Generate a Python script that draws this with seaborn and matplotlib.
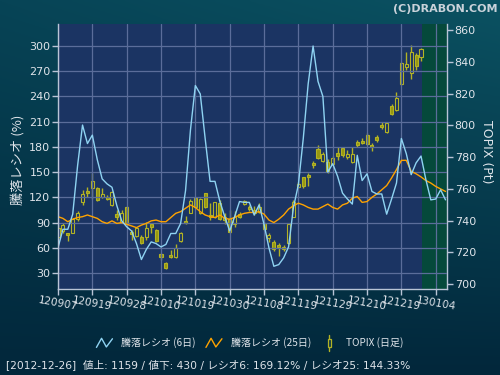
import numpy as np
import pandas as pd
import matplotlib
matplotlib.use("Agg")
import matplotlib.pyplot as plt
import seaborn as sns
from matplotlib.lines import Line2D
from matplotlib.patches import Rectangle
from matplotlib.legend_handler import HandlerBase

# ---------------- data ----------------
tick_labels = ["120907", "120919", "120928", "121010", "121019", "121030",
               "121108", "121119", "121129", "121210", "121219", "130104"]

ratio6 = [60, 82, 82, 100, 158, 206, 184, 194, 165, 142, 136, 132, 110, 92, 85, 80,
          65, 46, 58, 67, 65, 61, 64, 77, 77, 89, 128, 200, 253, 243, 190, 139,
          139, 115, 97, 80, 97, 115, 114, 114, 99, 111, 88, 60, 38, 40, 48, 61,
          108, 135, 190, 255, 300, 258, 240, 150, 160, 145, 125, 118, 112, 170, 140, 148,
          127, 124, 124, 100, 118, 137, 190, 172, 147, 161, 169.12, 141, 117, 118, 129, 117]

ratio25 = [97, 95, 91, 94, 96, 97, 99, 97, 95, 91, 89, 92, 89, 90, 88, 86,
           84, 87, 89, 92, 93, 91, 91, 96, 101, 103, 107, 111, 108, 103, 99, 97,
           96, 99, 95, 94, 96, 99, 101, 102, 102, 103, 100, 93, 90, 94, 99, 106,
           110, 113, 111, 108, 106, 106, 109, 112, 108, 106, 111, 113, 119, 121, 114, 115,
           120, 124, 129, 134, 143, 153, 164, 164, 151, 148, 144.33, 140, 137, 133, 130, 127]

topix_open = [729.8, 733.6, 731.9, 732.3, 740.7, 751.9, 758.8, 760.3, 760.3, 754.6,
              755.0, 749.8, 744.1, 739.3, 748.3, 732.8, 730.2, 729.8, 729.4, 737.8,
              734.0, 718.9, 713.4, 718.3, 717.2, 727.3, 739.7, 745.0, 754.0, 744.5,
              757.1, 743.5, 742.0, 750.8, 742.4, 740.7, 737.8, 744.1, 750.4, 748.3,
              746.6, 745.6, 738.2, 728.8, 726.7, 724.6, 723.5, 725.6, 742.4, 760.9,
              767.2, 768.7, 776.4, 784.8, 777.7, 777.1, 775.6, 782.7, 785.5, 779.8,
              777.1, 789.7, 790.3, 793.9, 787.6, 792.4, 800.2, 795.9, 812.1, 809.6,
              826.0, 836.9, 832.7, 844.3, 842.8]
topix_high = [737.0, 738.6, 732.0, 741.4, 746.2, 759.2, 761.3, 770.1, 761.3, 760.3,
              756.0, 758.8, 746.6, 746.6, 749.1, 734.0, 735.7, 730.8, 739.3, 738.6,
              734.4, 719.3, 714.1, 721.4, 725.2, 733.0, 742.8, 753.3, 755.0, 754.0,
              757.5, 750.8, 751.9, 752.9, 744.9, 746.6, 746.2, 745.6, 752.9, 749.8,
              749.1, 750.8, 739.3, 731.9, 727.7, 725.6, 724.6, 738.2, 752.9, 764.5,
              767.6, 769.7, 777.7, 787.6, 783.4, 778.5, 780.6, 786.5, 786.5, 784.4,
              786.5, 790.7, 791.8, 794.9, 788.6, 793.9, 802.3, 802.3, 813.5, 821.0,
              840.0, 846.3, 850.6, 845.3, 848.5]
topix_low = [727.0, 731.9, 727.3, 731.9, 739.5, 749.8, 755.0, 753.4, 752.5, 754.0,
             752.9, 749.0, 740.3, 738.2, 737.2, 727.7, 729.8, 725.2, 727.7, 731.9,
             726.7, 715.1, 709.2, 716.2, 716.2, 726.7, 737.8, 744.5, 747.7, 744.1,
             747.7, 740.3, 741.4, 740.3, 737.8, 731.9, 736.1, 741.4, 749.8, 746.2,
             743.5, 744.5, 734.0, 726.7, 721.0, 717.6, 721.0, 725.2, 742.0, 760.3,
             760.3, 761.7, 772.9, 778.5, 777.1, 770.1, 775.0, 778.1, 780.2, 778.5,
             776.4, 786.5, 788.2, 787.6, 784.0, 789.7, 797.4, 795.3, 806.4, 809.0,
             825.5, 834.8, 828.9, 834.8, 840.7]
topix_close = [735.1, 737.2, 730.9, 740.7, 744.5, 756.7, 757.5, 764.9, 752.9, 756.7,
               753.3, 758.2, 742.4, 744.9, 737.8, 731.5, 735.0, 726.0, 735.0, 736.1,
               727.3, 716.8, 709.9, 716.8, 722.5, 731.9, 738.2, 752.3, 748.7, 753.3,
               748.7, 742.0, 751.9, 740.7, 740.3, 733.0, 742.0, 742.4, 752.5, 747.0,
               744.9, 748.7, 734.4, 730.8, 721.8, 723.1, 721.8, 737.8, 751.9, 763.0,
               761.7, 767.2, 775.2, 779.2, 781.9, 770.8, 779.2, 780.6, 781.3, 781.9,
               781.9, 787.6, 789.0, 788.2, 786.1, 790.7, 798.7, 801.2, 807.1, 817.0,
               839.4, 838.4, 846.3, 837.6, 847.8]

info_text = "[2012-12-26]  値上: 1159 / 値下: 430 / レシオ6: 169.12% / レシオ25: 144.33%"

# ---------------- style ----------------
sns.set_style("dark")
plt.rcParams["font.family"] = ["DejaVu Sans", "Noto Sans CJK JP"]
plt.rcParams["axes.unicode_minus"] = False

NAVY = "#1b3463"
GREEN = "#05493b"
TXT = "#dfe4ea"
GRID = "#5b6d9a"
SPINE = "#b9c4d6"
CYAN = "#8fd3f2"
ORANGE = "#ffa300"
OLIVE_F = "#979712"
OLIVE_E = "#b3b324"

df_ratio = pd.DataFrame({"idx": np.arange(len(ratio6)), "r6": ratio6, "r25": ratio25})
df_px = pd.DataFrame({"idx": np.arange(len(topix_open)), "o": topix_open, "h": topix_high,
                      "l": topix_low, "c": topix_close})

fig = plt.figure(figsize=(5, 3.75), dpi=100)

# background gradient
bg = fig.add_axes([0, 0, 1, 1], zorder=-10)
yy = np.linspace(0, 1, 200)[:, None]
xx = np.linspace(0, 1, 300)[None, :]
top = np.array([0x07, 0x44, 0x56]) / 255
topr = np.array([0x0b, 0x52, 0x62]) / 255
bot = np.array([0x02, 0x27, 0x3b]) / 255
t = yy[..., None]
s = xx[..., None]
topcol = top * (1 - s) + topr * s
img = topcol * (1 - t) + bot * t
bg.imshow(img, aspect="auto", extent=[0, 1, 0, 1], origin="upper")
bg.set_axis_off()

ax = fig.add_axes([0.116, 0.2293, 0.778, 0.7067])
ax2 = ax.twinx()
ax.set_zorder(ax2.get_zorder() + 1)
ax.patch.set_visible(False)
ax2.patch.set_visible(True)
ax2.set_facecolor(NAVY)

n_px = len(topix_open)
xmax = 79.3
ax2.axvspan(n_px - 0.75, xmax, color=GREEN, zorder=0, lw=0)

# candles
up = df_px["c"] >= df_px["o"]
ax2.vlines(df_px["idx"], df_px["l"], df_px["h"], color=OLIVE_E, lw=1.0, zorder=2)
body_bottom = np.minimum(df_px["o"], df_px["c"])
body_h = np.maximum(np.abs(df_px["c"] - df_px["o"]), 0.6)
faces = [NAVY if u else OLIVE_F for u in up]
ax2.bar(df_px["idx"], body_h, bottom=body_bottom, width=0.62, color=faces,
        edgecolor=OLIVE_E, linewidth=0.8, zorder=3)

# ratio lines
sns.lineplot(data=df_ratio, x="idx", y="r25", ax=ax, color=ORANGE, lw=1.0, legend=False)
sns.lineplot(data=df_ratio, x="idx", y="r6", ax=ax, color=CYAN, lw=1.0, legend=False)

ax.set_xlim(0, xmax)
ax.set_ylim(10.95, 326.2)
ax2.set_ylim(696.85, 863.8)
ax.set_xlabel("")
ax.set_ylabel("")

ax.set_yticks(np.arange(30, 301, 30))
ax.set_xticks(np.arange(0, 7 * len(tick_labels), 7))
ax.set_xticklabels(tick_labels, rotation=-10, ha="center")
ax2.set_yticks(np.arange(700, 861, 20))

ax.grid(True, color=GRID, lw=0.9)
ax2.grid(False)

for a in (ax, ax2):
    for sp in a.spines.values():
        sp.set_visible(False)
ax.spines["left"].set_visible(True)
ax.spines["bottom"].set_visible(True)
ax2.spines["right"].set_visible(True)
for sp in (ax.spines["left"], ax.spines["bottom"], ax2.spines["right"]):
    sp.set_color(SPINE)
    sp.set_linewidth(1.0)

ax.tick_params(axis="y", colors=SPINE, labelcolor=TXT, labelsize=8, length=4, width=1, pad=1.5, direction="out", left=True)
ax.tick_params(axis="x", colors=SPINE, labelcolor=TXT, labelsize=7.6, length=4, width=1, pad=0.5, direction="out", bottom=True)
ax2.tick_params(axis="y", colors=SPINE, labelcolor=TXT, labelsize=8, length=4, width=1, pad=1.5, direction="out", right=True)

# axis titles
fig.text(18 / 500, 1 - 160 / 375, "騰落レシオ (%)", rotation=90, ha="center", va="center",
         color=TXT, fontsize=9.5, family=["Noto Sans CJK JP", "DejaVu Sans"])
fig.text(486 / 500, 1 - 152 / 375, "TOPIX (Pt)", rotation=-90, ha="center", va="center",
         color=TXT, fontsize=9)
fig.text(0.994, 1 - 9 / 375, "(C)DRABON.COM", ha="right", va="center", color="#c9d2da",
         fontsize=8, fontweight="bold")

# legend
class ZigZagHandler(HandlerBase):
    def create_artists(self, legend, orig_handle, xdescent, ydescent, width, height, fontsize, trans):
        fx = np.array([0.0, 0.32, 0.62, 1.0])
        fy = np.array([0.0, 1.0, 0.05, 0.95])
        xs = -xdescent + fx * width
        ys = -ydescent + (fy * 1.3 - 0.15) * height
        return [Line2D(xs, ys, color=orig_handle.get_color(), lw=1.0, transform=trans)]


class CandleHandler(HandlerBase):
    def create_artists(self, legend, orig_handle, xdescent, ydescent, width, height, fontsize, trans):
        cx = -xdescent + width * 0.5
        y0 = -ydescent
        wick = Line2D([cx, cx], [y0 - 0.6 * height, y0 + 1.6 * height], color=OLIVE_E, lw=1.0, transform=trans)
        bw = 0.45 * height
        body = Rectangle((cx - bw / 2, y0 - 0.05 * height), bw, 1.1 * height, facecolor="#0b3448",
                         edgecolor=OLIVE_E, lw=0.9, transform=trans)
        return [wick, body]


h6 = Line2D([], [], color=CYAN)
h25 = Line2D([], [], color=ORANGE)
hc = Rectangle((0, 0), 1, 1)
leg = fig.legend([h6, h25, hc], ["騰落レシオ (6日)", "騰落レシオ (25日)", "TOPIX (日足)"],
                 handler_map={Line2D: ZigZagHandler(), Rectangle: CandleHandler()},
                 loc="center", bbox_to_anchor=(0.5, 1 - 343 / 375), ncol=3, frameon=False,
                 handlelength=1.6, handletextpad=0.9, columnspacing=1.0,
                 prop={"family": ["Noto Sans CJK JP", "DejaVu Sans"], "size": 7.2})
for txt in leg.get_texts():
    txt.set_color(TXT)

fig.text(6 / 500, 1 - 365 / 375, info_text, ha="left", va="center", color=TXT, fontsize=7.7,
         family=["DejaVu Sans", "Noto Sans CJK JP"])

fig.savefig("out.png", dpi=100, facecolor="#04304a")
